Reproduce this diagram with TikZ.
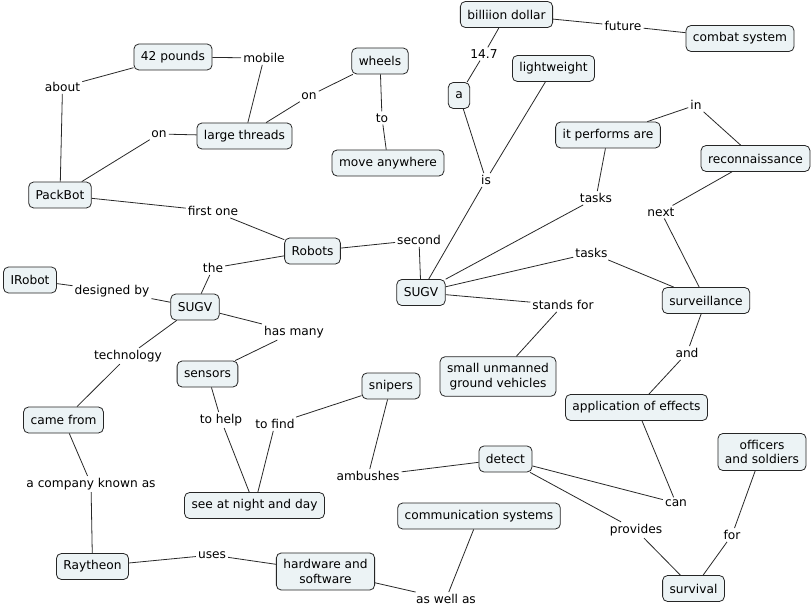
\documentclass[tikz,border=0pt]{standalone}
\usepackage{fontspec}
\setmainfont{DejaVu Sans}
\definecolor{cfill}{RGB}{236,243,245}
\definecolor{lcol}{RGB}{40,40,40}
\begin{document}
\begin{tikzpicture}[x=1pt,y=-1pt,
  every node/.style={font=\fontsize{12.2}{14.7}\selectfont},
  concept/.style={draw=black!85, line width=0.8pt, rounded corners=5pt, fill=cfill,
    inner xsep=7pt, inner ysep=2pt, minimum height=26pt, align=center},
  twoline/.style={inner ysep=6.5pt},
  lnk/.style={inner sep=2pt, text=black},
  conn/.style={draw=lcol, line width=0.8pt}]
\useasboundingbox[fill=white] (0,0) rectangle (812,607);
% concepts
\node[concept] (pounds) at (173,57) {42 pounds};
\node[concept] (threads) at (244.5,136) {large threads};
\node[concept] (packbot) at (60,195) {PackBot};
\node[concept] (wheels) at (380,61) {wheels};
\node[concept] (move) at (388,163) {move anywhere};
\node[concept] (billion) at (506.5,14.5) {billiion dollar};
\node[concept] (combat) at (740,38.5) {combat system};
\node[concept] (a) at (459,95.5) {a};
\node[concept] (light) at (553.5,68.5) {lightweight};
\node[concept] (performs) at (608,135) {it performs are};
\node[concept] (recon) at (755.5,158.5) {reconnaissance};
\node[concept] (robots) at (312.5,251) {Robots};
\node[concept] (irobot) at (30,280) {IRobot};
\node[concept] (sugvl) at (195,307) {SUGV};
\node[concept] (sensors) at (207.5,374) {sensors};
\node[concept] (snipers) at (391,386) {snipers};
\node[concept] (sugvr) at (421,292.5) {SUGV};
\node[concept] (surv) at (706,300.5) {surveillance};
\node[concept,twoline] (small) at (498,376.5) {small unmanned\\ ground vehicles};
\node[concept] (appl) at (636.5,407.5) {application of effects};
\node[concept] (came) at (63.5,420) {came from};
\node[concept] (see) at (254.5,505.5) {see at night and day};
\node[concept] (raytheon) at (92.5,566.5) {Raytheon};
\node[concept,twoline] (hw) at (325.5,571.5) {hardware and\\ software};
\node[concept] (comm) at (479,516) {communication systems};
\node[concept] (detect) at (505.5,459) {detect};
\node[concept,twoline] (officers) at (762,452) {officers\\ and soldiers};
\node[concept] (survival) at (693.5,588.5) {survival};
% linking phrases
\node[lnk] (about) at (62.5,87) {about};
\node[lnk] (mobile) at (264,58) {mobile};
\node[lnk] (on1) at (159,134) {on};
\node[lnk] (first) at (213,211) {first one};
\node[lnk] (on2) at (309,96) {on};
\node[lnk] (to) at (382,118) {to};
\node[lnk] (n147) at (484,54) {14.7};
\node[lnk] (future) at (623,26) {future};
\node[lnk] (is) at (486,180) {is};
\node[lnk] (in) at (696,105) {in};
\node[lnk] (tasks1) at (596,198) {tasks};
\node[lnk] (next) at (661,212) {next};
\node[lnk] (second) at (419,240) {second};
\node[lnk] (the) at (213,268) {the};
\node[lnk] (designed) at (112,291) {designed by};
\node[lnk] (hasmany) at (294,332) {has many};
\node[lnk] (tech) at (128,356) {technology};
\node[lnk] (tohelp) at (221,420) {to help};
\node[lnk] (tofind) at (275,424) {to find};
\node[lnk] (ambushes) at (368,476) {ambushes};
\node[lnk] (company) at (91,484) {a company known as};
\node[lnk] (uses) at (212,555) {uses};
\node[lnk] (tasks2) at (591.5,253) {tasks};
\node[lnk] (stands) at (563,305) {stands for};
\node[lnk] (and) at (687,353) {and};
\node[lnk] (can) at (676,503) {can};
\node[lnk] (provides) at (636,530) {provides};
\node[lnk] (for) at (732,535) {for};
\node[lnk] (aswell) at (446,599) {as well as};
% connectors
\draw[conn] (packbot) -- (about) -- (pounds);
\draw[conn] (pounds) -- (mobile) -- (threads);
\draw[conn] (packbot) -- (on1) -- (threads);
\draw[conn] (threads) -- (on2) -- (wheels);
\draw[conn] (wheels) -- (to) -- (move);
\draw[conn] (robots) -- (first) -- (packbot);
\draw[conn] (robots) -- (second) -- (sugvr);
\draw[conn] (robots) -- (the) -- (sugvl);
\draw[conn] (irobot) -- (designed) -- (sugvl);
\draw[conn] (sugvl) -- (hasmany) -- (sensors);
\draw[conn] (sugvl) -- (tech) -- (came);
\draw[conn] (came) -- (company) -- (raytheon);
\draw[conn] (raytheon) -- (uses) -- (hw);
\draw[conn] (hw) -- (aswell) -- (comm);
\draw[conn] (sensors) -- (tohelp) -- (see);
\draw[conn] (see) -- (tofind) -- (snipers);
\draw[conn] (snipers) -- (ambushes) -- (detect);
\draw[conn] (detect) -- (can) -- (appl);
\draw[conn] (detect) -- (provides) -- (survival);
\draw[conn] (survival) -- (for) -- (officers);
\draw[conn] (sugvr) -- (is) -- (a);
\draw[conn] (is) -- (light);
\draw[conn] (a) -- (n147) -- (billion);
\draw[conn] (billion) -- (future) -- (combat);
\draw[conn] (sugvr) -- (tasks1) -- (performs);
\draw[conn] (performs) -- (in) -- (recon);
\draw[conn] (sugvr) -- (tasks2) -- (surv);
\draw[conn] (recon) -- (next) -- (surv);
\draw[conn] (surv) -- (and) -- (appl);
\draw[conn] (sugvr) -- (stands) -- (small);
\end{tikzpicture}
\end{document}
